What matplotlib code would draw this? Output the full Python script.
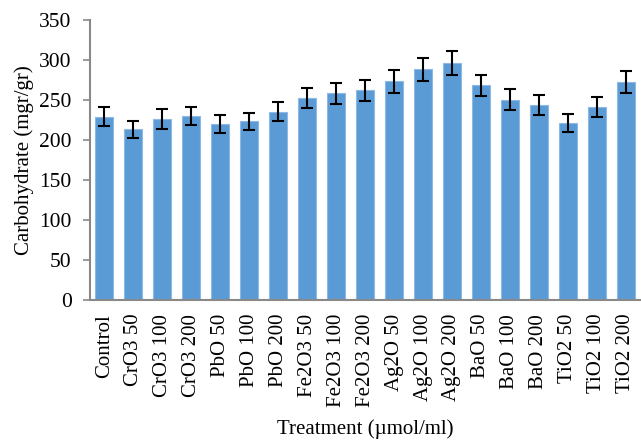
import matplotlib
matplotlib.use("Agg")
import matplotlib.pyplot as plt

#data
treatments = ["Control", "CrO3 50", "CrO3 100", "CrO3 200", "PbO 50", "PbO 100", "PbO 200",
              "Fe2O3 50", "Fe2O3 100", "Fe2O3 200", "Ag2O 50", "Ag2O 100", "Ag2O 200",
              "BaO 50", "BaO 100", "BaO 200", "TiO2 50", "TiO2 100", "TiO2 200"]
carbohydrate = [229, 213, 226, 230, 220, 223, 235, 252, 258, 262, 273, 288, 296,
                268, 250, 244, 221, 241, 272]
errors = [12, 11, 12, 11.5, 11, 11, 12, 12.5, 13, 13, 14, 14.5, 15,
          13.5, 13, 12.5, 11, 12, 14]

plt.rcParams["font.family"] = ["Liberation Serif", "DejaVu Serif"]

fig = plt.figure(figsize=(6.41, 4.41), dpi=100)
ax = fig.add_axes([0.140, 0.320, 0.859, 0.635])

x = list(range(len(treatments)))
ax.bar(x, carbohydrate, width=0.62, color="#5B9BD5", edgecolor="#8DB9E4", linewidth=0.8,
       yerr=errors, error_kw=dict(ecolor="black", elinewidth=1.5, capsize=4, capthick=1.5))

ax.set_xlim(-0.5, 18.5)
ax.set_ylim(0, 350)
ax.set_yticks(range(0, 351, 50))
ax.set_xticks(x)
ax.set_xticklabels(treatments, rotation=90, fontsize=15)
ax.tick_params(axis="y", labelsize=15.5, color="#898989", length=5, width=1.2, pad=8)
ax.tick_params(axis="x", length=0, pad=10)

for side in ["top", "right"]:
    ax.spines[side].set_visible(False)
for side in ["left", "bottom"]:
    ax.spines[side].set_color("#898989")
    ax.spines[side].set_linewidth(1.5)

ax.set_ylabel("Carbohydrate (mgr/gr)", fontsize=15, labelpad=4)
ax.set_xlabel("Treatment (\u00b5mol/ml)", fontsize=15, labelpad=9)

fig.savefig("out.png", dpi=100)
